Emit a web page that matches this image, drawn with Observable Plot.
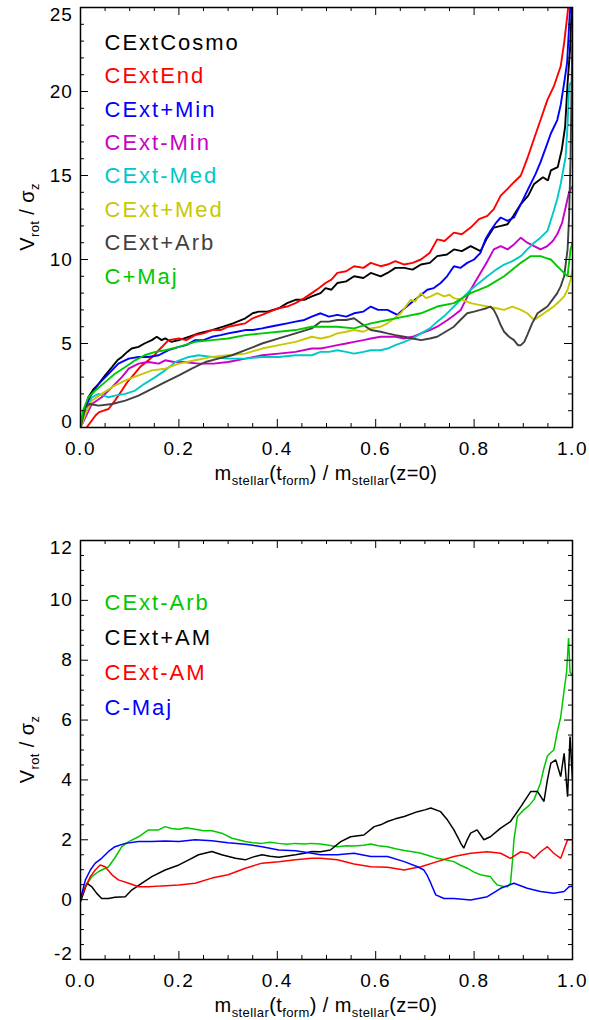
<!DOCTYPE html>
<html><head><meta charset="utf-8">
<script src="https://cdn.jsdelivr.net/npm/d3@7"></script>
<script src="https://cdn.jsdelivr.net/npm/@observablehq/plot@0.6"></script>
<style>
html,body{margin:0;padding:0;background:#fff;}
#chart svg{display:block;}
g[aria-label="x-axis tick label"]{letter-spacing:1.5px;}
g[aria-label="y-axis tick label"]{letter-spacing:0.8px;}
g[aria-label="text"]{letter-spacing:2px;}
</style></head><body><div id="chart"></div>
<script>
// ---------- Data (x = m_stellar(t_form)/m_stellar(z=0), y = Vrot/sigma_z) ----------
// Top panel
const cextCosmo = [[0,0],[0.008,1.0],[0.016,1.8],[0.027,2.3],[0.037,2.6],[0.05,3.1],[0.064,3.6],[0.075,4.0],[0.084,4.2],[0.095,4.5],[0.104,4.7],[0.118,4.8],[0.13,5.0],[0.145,5.2],[0.155,5.4],[0.165,5.2],[0.172,5.3],[0.185,5.1],[0.2,5.2],[0.22,5.4],[0.24,5.6],[0.267,5.8],[0.29,6.0],[0.31,6.2],[0.335,6.5],[0.35,6.8],[0.362,6.9],[0.38,6.9],[0.403,7.1],[0.42,7.4],[0.437,7.6],[0.455,7.6],[0.47,7.8],[0.488,8.0],[0.498,8.3],[0.51,8.2],[0.522,8.6],[0.54,8.7],[0.556,9.0],[0.575,8.9],[0.59,9.2],[0.61,9.0],[0.624,9.2],[0.64,9.5],[0.658,9.5],[0.675,9.4],[0.692,9.7],[0.71,9.8],[0.725,10.2],[0.745,10.3],[0.759,10.6],[0.775,10.5],[0.793,10.8],[0.813,10.5],[0.825,11.2],[0.84,11.9],[0.855,12.0],[0.868,12.1],[0.88,12.6],[0.895,13.3],[0.91,13.8],[0.922,14.5],[0.94,14.9],[0.95,14.7],[0.956,15.3],[0.97,15.5],[0.978,16.5],[0.985,17.9],[0.99,20.5],[0.995,22.5],[1.0,26]];
const cextEnd = [[0.01,-0.1],[0.02,0.3],[0.03,0.7],[0.037,0.9],[0.047,1.0],[0.057,1.1],[0.07,1.6],[0.084,2.2],[0.095,2.7],[0.104,3.0],[0.121,3.6],[0.138,4.0],[0.15,4.3],[0.159,4.6],[0.179,5.2],[0.2,5.3],[0.215,5.2],[0.233,5.5],[0.25,5.6],[0.267,5.8],[0.285,5.8],[0.3,6.0],[0.318,6.1],[0.335,6.2],[0.35,6.5],[0.369,6.7],[0.385,6.9],[0.403,7.1],[0.42,7.2],[0.437,7.4],[0.455,7.7],[0.47,8.0],[0.485,8.3],[0.498,8.6],[0.51,8.8],[0.522,9.2],[0.54,9.3],[0.556,9.6],[0.575,9.5],[0.59,9.8],[0.61,9.6],[0.624,9.7],[0.64,9.9],[0.658,9.7],[0.675,9.8],[0.692,10.0],[0.71,10.4],[0.725,11.2],[0.74,11.1],[0.759,11.6],[0.775,11.5],[0.793,11.9],[0.81,12.4],[0.827,12.6],[0.84,13.0],[0.854,13.8],[0.868,14.2],[0.881,14.6],[0.895,15.0],[0.908,16.0],[0.922,17.2],[0.935,18.3],[0.949,19.5],[0.962,20.3],[0.976,21.5],[0.983,22.9],[0.989,24.4],[0.995,26]];
const cextPlusMin = [[0,0],[0.01,1.2],[0.023,2.0],[0.037,2.6],[0.057,3.2],[0.077,3.8],[0.098,4.1],[0.118,4.2],[0.138,4.2],[0.159,4.3],[0.179,4.6],[0.2,4.8],[0.215,4.9],[0.233,5.2],[0.25,5.2],[0.267,5.4],[0.285,5.5],[0.3,5.6],[0.318,5.7],[0.335,5.8],[0.35,5.8],[0.369,5.9],[0.385,6.0],[0.403,6.1],[0.42,6.2],[0.437,6.3],[0.455,6.4],[0.47,6.6],[0.488,6.8],[0.505,6.6],[0.522,6.7],[0.54,6.6],[0.556,6.8],[0.575,6.9],[0.59,7.2],[0.605,7.0],[0.624,7.0],[0.644,6.7],[0.655,7.0],[0.671,7.4],[0.688,7.8],[0.705,8.2],[0.718,8.3],[0.732,8.6],[0.745,9.0],[0.759,9.6],[0.772,9.5],[0.786,9.8],[0.8,10.0],[0.813,10.4],[0.823,11.2],[0.833,11.7],[0.845,12.2],[0.854,12.5],[0.868,12.3],[0.881,12.5],[0.895,13.3],[0.905,13.9],[0.915,14.5],[0.925,15.1],[0.935,15.8],[0.945,16.6],[0.956,17.5],[0.969,18.3],[0.976,19.2],[0.983,20.5],[0.989,21.7],[0.994,24.4],[0.998,26]];
const cextMinusMin = [[0,0],[0.01,0.6],[0.023,1.4],[0.043,1.8],[0.064,2.4],[0.084,3.0],[0.098,3.5],[0.118,3.8],[0.138,3.9],[0.159,3.8],[0.172,4.0],[0.19,3.9],[0.21,3.9],[0.24,3.8],[0.27,3.8],[0.3,3.9],[0.335,4.1],[0.369,4.3],[0.403,4.4],[0.437,4.5],[0.47,4.7],[0.488,4.7],[0.505,4.8],[0.522,4.9],[0.54,5.0],[0.556,5.1],[0.575,5.2],[0.59,5.3],[0.61,5.4],[0.624,5.4],[0.64,5.4],[0.658,5.3],[0.675,5.4],[0.692,5.6],[0.71,5.8],[0.725,6.0],[0.746,6.4],[0.76,6.7],[0.773,7.0],[0.783,7.6],[0.793,8.2],[0.803,8.7],[0.813,9.2],[0.827,9.9],[0.84,10.6],[0.854,10.8],[0.868,10.6],[0.881,10.9],[0.895,11.3],[0.908,11.0],[0.922,10.8],[0.935,10.6],[0.949,10.8],[0.96,11.1],[0.969,11.5],[0.979,12.2],[0.986,13.1],[0.993,14.0],[0.998,14.3]];
const cextMinusMed = [[0,0],[0.01,0.8],[0.023,1.8],[0.037,2.0],[0.047,1.9],[0.057,1.8],[0.07,1.9],[0.091,2.0],[0.111,2.2],[0.13,2.6],[0.152,3.0],[0.172,3.4],[0.193,3.9],[0.22,4.2],[0.24,4.3],[0.267,4.2],[0.3,4.1],[0.335,4.1],[0.369,4.2],[0.403,4.2],[0.437,4.3],[0.47,4.3],[0.488,4.5],[0.505,4.5],[0.522,4.6],[0.54,4.5],[0.556,4.4],[0.575,4.5],[0.59,4.6],[0.61,4.6],[0.624,4.7],[0.64,4.9],[0.658,5.1],[0.675,5.3],[0.692,5.6],[0.71,5.9],[0.725,6.3],[0.742,6.7],[0.759,7.2],[0.776,7.7],[0.793,8.2],[0.81,8.6],[0.827,9.0],[0.845,9.4],[0.861,9.7],[0.878,9.9],[0.895,10.2],[0.908,10.6],[0.922,11.0],[0.935,11.3],[0.949,11.7],[0.962,12.9],[0.969,13.6],[0.976,14.5],[0.981,15.3],[0.986,16.1],[0.99,18.0],[0.993,20.3],[0.996,20.5]];
const cextPlusMed = [[0,0],[0.01,0.8],[0.023,1.6],[0.043,2.0],[0.064,2.4],[0.091,2.8],[0.118,3.1],[0.145,3.4],[0.172,3.5],[0.2,3.8],[0.233,4.0],[0.267,4.2],[0.3,4.3],[0.335,4.4],[0.369,4.7],[0.403,4.9],[0.437,5.1],[0.47,5.4],[0.488,5.3],[0.505,5.4],[0.522,5.6],[0.54,5.7],[0.556,5.8],[0.575,5.7],[0.59,5.9],[0.61,6.0],[0.624,6.2],[0.638,6.5],[0.651,6.8],[0.661,7.2],[0.671,7.6],[0.68,7.5],[0.692,8.0],[0.702,7.7],[0.712,7.8],[0.725,8.0],[0.739,7.8],[0.75,7.9],[0.759,7.7],[0.776,7.6],[0.793,7.4],[0.81,7.3],[0.827,7.2],[0.845,7.1],[0.861,7.0],[0.878,7.2],[0.895,7.0],[0.908,6.8],[0.922,6.4],[0.932,6.6],[0.942,6.8],[0.952,7.0],[0.962,7.2],[0.973,7.5],[0.983,7.8],[0.99,8.2],[0.996,8.8],[1.0,9.4]];
const cextPlusArb = [[0,0],[0.01,1.2],[0.018,1.4],[0.037,1.3],[0.064,1.4],[0.091,1.6],[0.118,1.9],[0.145,2.3],[0.172,2.7],[0.2,3.1],[0.226,3.5],[0.254,3.9],[0.28,4.1],[0.308,4.3],[0.335,4.6],[0.369,5.0],[0.403,5.3],[0.437,5.6],[0.47,5.9],[0.488,6.3],[0.505,6.3],[0.522,6.4],[0.54,6.4],[0.556,6.5],[0.57,6.2],[0.59,5.8],[0.61,5.7],[0.624,5.6],[0.64,5.5],[0.658,5.4],[0.675,5.3],[0.692,5.2],[0.71,5.3],[0.725,5.4],[0.742,5.7],[0.759,6.0],[0.772,6.4],[0.786,6.8],[0.8,6.9],[0.813,7.0],[0.825,7.1],[0.833,7.2],[0.84,7.0],[0.847,6.6],[0.854,6.1],[0.861,5.7],[0.871,5.4],[0.881,5.2],[0.889,4.9],[0.895,4.9],[0.902,5.1],[0.908,5.5],[0.918,6.2],[0.929,6.8],[0.939,7.0],[0.949,7.2],[0.959,7.6],[0.969,8.0],[0.976,8.4],[0.983,9.0],[0.99,10.6],[0.993,12.5],[0.996,16],[0.998,20],[1.0,24]];
const cPlusMaj = [[0,0],[0.005,1.0],[0.016,1.8],[0.03,2.2],[0.05,2.7],[0.07,3.2],[0.091,3.6],[0.111,4.0],[0.13,4.3],[0.152,4.5],[0.172,4.6],[0.2,4.8],[0.233,5.1],[0.267,5.2],[0.3,5.3],[0.335,5.5],[0.369,5.6],[0.403,5.7],[0.437,5.8],[0.47,6.0],[0.488,6.0],[0.522,6.0],[0.556,5.9],[0.59,6.2],[0.624,6.4],[0.658,6.6],[0.692,6.8],[0.725,7.2],[0.759,7.4],[0.793,8.0],[0.827,8.4],[0.861,9.0],[0.878,9.4],[0.895,9.8],[0.905,10.0],[0.915,10.2],[0.935,10.2],[0.945,10.1],[0.956,10.0],[0.966,9.7],[0.976,9.4],[0.99,9.0],[0.996,10.6],[1.0,11]];

// Bottom panel
const cextMinusArb = [[0,0.04],[0.01,0.43],[0.023,0.77],[0.037,0.94],[0.057,1.1],[0.07,1.4],[0.084,1.77],[0.098,1.94],[0.118,2.1],[0.138,2.33],[0.159,2.33],[0.172,2.44],[0.185,2.38],[0.2,2.35],[0.215,2.4],[0.233,2.35],[0.25,2.3],[0.267,2.3],[0.287,2.22],[0.308,2.05],[0.335,1.94],[0.35,1.9],[0.369,1.88],[0.385,1.92],[0.403,1.88],[0.42,1.85],[0.437,1.88],[0.455,1.86],[0.47,1.88],[0.488,1.86],[0.505,1.82],[0.522,1.77],[0.54,1.8],[0.556,1.79],[0.575,1.82],[0.59,1.86],[0.605,1.8],[0.624,1.77],[0.64,1.7],[0.658,1.64],[0.675,1.6],[0.692,1.55],[0.71,1.46],[0.725,1.38],[0.742,1.33],[0.759,1.27],[0.772,1.15],[0.786,1.05],[0.8,0.92],[0.813,0.83],[0.823,0.8],[0.833,0.77],[0.84,0.62],[0.847,0.49],[0.858,0.45],[0.868,0.43],[0.874,0.55],[0.878,1.3],[0.881,2.0],[0.888,2.78],[0.901,3.0],[0.912,3.15],[0.922,3.35],[0.935,3.9],[0.942,4.4],[0.949,4.8],[0.955,4.9],[0.962,5.0],[0.969,5.6],[0.976,6.1],[0.983,7.0],[0.988,7.6],[0.992,8.74],[0.995,7.6],[1.0,7.5]];
const cextPlusAM = [[0,-0.07],[0.006,0.21],[0.013,0.55],[0.023,0.43],[0.033,0.21],[0.043,0.04],[0.057,0.04],[0.07,0.08],[0.091,0.1],[0.104,0.32],[0.125,0.55],[0.145,0.77],[0.172,0.99],[0.2,1.16],[0.22,1.33],[0.24,1.5],[0.267,1.61],[0.287,1.5],[0.315,1.38],[0.335,1.33],[0.35,1.42],[0.369,1.5],[0.385,1.45],[0.403,1.42],[0.42,1.46],[0.437,1.5],[0.455,1.55],[0.47,1.61],[0.488,1.6],[0.508,1.66],[0.529,1.94],[0.549,2.1],[0.576,2.16],[0.597,2.44],[0.61,2.5],[0.624,2.61],[0.64,2.7],[0.658,2.78],[0.685,2.94],[0.7,3.0],[0.712,3.06],[0.732,2.94],[0.746,2.66],[0.759,2.33],[0.768,2.05],[0.773,1.88],[0.779,1.72],[0.786,2.0],[0.793,2.22],[0.806,2.33],[0.82,2.0],[0.833,2.1],[0.854,2.39],[0.874,2.61],[0.895,3.11],[0.915,3.61],[0.929,3.61],[0.942,3.28],[0.949,4.0],[0.956,4.56],[0.966,4.67],[0.976,4.11],[0.983,4.89],[0.99,3.44],[0.995,5.45],[1.0,4.0]];
const cextMinusAM = [[0,0.04],[0.01,0.43],[0.02,0.77],[0.03,0.99],[0.04,1.16],[0.05,1.1],[0.064,0.83],[0.077,0.66],[0.098,0.55],[0.118,0.43],[0.138,0.43],[0.165,0.46],[0.2,0.49],[0.233,0.55],[0.267,0.72],[0.3,0.83],[0.335,1.05],[0.369,1.22],[0.403,1.27],[0.437,1.33],[0.47,1.38],[0.488,1.38],[0.522,1.33],[0.556,1.19],[0.59,1.1],[0.624,1.08],[0.658,0.99],[0.675,1.05],[0.692,1.1],[0.725,1.27],[0.759,1.44],[0.793,1.55],[0.827,1.6],[0.854,1.55],[0.874,1.38],[0.895,1.6],[0.91,1.55],[0.922,1.38],[0.935,1.6],[0.949,1.77],[0.962,1.55],[0.976,1.38],[0.99,2.0],[1.0,2.0]];
const cMinusMaj = [[0,0.04],[0.01,0.66],[0.02,0.99],[0.03,1.22],[0.043,1.38],[0.057,1.61],[0.07,1.77],[0.091,1.88],[0.118,1.94],[0.145,1.94],[0.172,1.96],[0.2,1.94],[0.233,2.0],[0.267,1.97],[0.3,1.9],[0.335,1.85],[0.369,1.77],[0.403,1.66],[0.437,1.63],[0.47,1.55],[0.488,1.5],[0.522,1.5],[0.556,1.55],[0.59,1.44],[0.624,1.44],[0.658,1.27],[0.685,1.1],[0.698,0.99],[0.705,0.8],[0.712,0.55],[0.722,0.16],[0.739,0.04],[0.759,0.04],[0.793,-0.01],[0.827,0.1],[0.854,0.38],[0.881,0.55],[0.908,0.38],[0.935,0.27],[0.962,0.21],[0.983,0.27],[0.993,0.43],[1.0,0.45]];

const topNames = ["CExtCosmo","CExtEnd","CExt+Min","CExt-Min","CExt-Med","CExt+Med","CExt+Arb","C+Maj"];
const topColors = ["#000000","#ff0000","#0000ff","#c800c8","#00c8c8","#c8c800","#404040","#00c800"];
const topSeries = [cextCosmo,cextEnd,cextPlusMin,cextMinusMin,cextMinusMed,cextPlusMed,cextPlusArb,cPlusMaj];

const botNames = ["CExt-Arb","CExt+AM","CExt-AM","C-Maj"];
const botColors = ["#00c800","#000000","#ff0000","#0000ff"];
const botSeries = [cextMinusArb,cextPlusAM,cextMinusAM,cMinusMaj];

const xMajor = [0,0.2,0.4,0.6,0.8,1.0];
const xMinor = [0.05,0.1,0.15,0.25,0.3,0.35,0.45,0.5,0.55,0.65,0.7,0.75,0.85,0.9,0.95];
const topYMajor = [0,5,10,15,20,25];
const topYMinor = d3.range(0,25.01,1).filter(v => v % 5 !== 0);
const botYMajor = [-2,0,2,4,6,8,10,12];
const botYMinor = d3.range(-2,12.01,0.5).filter(v => v % 2 !== 0);

const xTitleParts = [["m",0],["stellar",1],["(t",0],["form",1],[") / m",0],["stellar",1],["(z=0)",0]];
const yTitleParts = [["V",0],["rot",1],[" / σ",0],["z",1]];

const W = 589, ML = 80, MR = 17;
const FONT = "'Liberation Sans', Arial, Helvetica, sans-serif";

function appendRich(t, parts, size, subSize, shift) {
  let cur = 0;
  parts.forEach(([str, sub]) => {
    const target = sub ? shift : 0;
    t.append("tspan").attr("font-size", sub ? subSize : size).attr("dy", target - cur).text(str);
    cur = target;
  });
}

function panel({series, names, colors, yDomain, yMajor, yMinor, height, marginTop, marginBottom, legendDy0, legendStep, strokeWidth}) {
  const fh = height - marginTop - marginBottom;
  const fw = W - ML - MR;
  const marks = [];
  series.forEach((s, i) => {
    marks.push(Plot.line(s, {x: d => d[0], y: d => d[1], stroke: colors[i], strokeWidth, strokeLinejoin: "miter", clip: true}));
  });
  // inward ticks on all four sides
  marks.push(Plot.tickX(xMajor, {x: d => d, insetTop: fh - 8, stroke: "#000"}));
  marks.push(Plot.tickX(xMajor, {x: d => d, insetBottom: fh - 8, stroke: "#000"}));
  marks.push(Plot.tickX(xMinor, {x: d => d, insetTop: fh - 4, stroke: "#000"}));
  marks.push(Plot.tickX(xMinor, {x: d => d, insetBottom: fh - 4, stroke: "#000"}));
  marks.push(Plot.tickY(yMajor, {y: d => d, insetRight: fw - 8, stroke: "#000"}));
  marks.push(Plot.tickY(yMajor, {y: d => d, insetLeft: fw - 8, stroke: "#000"}));
  marks.push(Plot.tickY(yMinor, {y: d => d, insetRight: fw - 4, stroke: "#000"}));
  marks.push(Plot.tickY(yMinor, {y: d => d, insetLeft: fw - 4, stroke: "#000"}));
  marks.push(Plot.frame({stroke: "#000", strokeWidth: 1.5}));
  marks.push(Plot.axisX({ticks: xMajor, tickSize: 0, tickPadding: 14, tickFormat: d3.format(".1f"), fontSize: 19, label: null, anchor: "bottom"}));
  // y tick labels: inner ones centred on the tick, the end ones nudged inside like the original
  const yInner = yMajor.slice(1, -1);
  const yAxisOpts = {tickSize: 0, tickPadding: 8, tickFormat: d => String(d), fontSize: 19, label: null, anchor: "left"};
  marks.push(Plot.axisY({...yAxisOpts, ticks: yInner}));
  marks.push(Plot.axisY({...yAxisOpts, ticks: [yMajor[yMajor.length - 1]], dy: 7}));
  marks.push(Plot.axisY({...yAxisOpts, ticks: [yMajor[0]], dy: -6}));
  names.forEach((n, i) => {
    marks.push(Plot.text([n], {text: d => d, frameAnchor: "top-left", dx: 24, dy: legendDy0 + i * legendStep, textAnchor: "start", fill: colors[i], fontSize: 22}));
  });
  const svg = Plot.plot({
    width: W, height, marginLeft: ML, marginRight: MR, marginTop, marginBottom,
    x: {domain: [0, 1]},
    y: {domain: yDomain},
    style: {fontFamily: FONT, background: "#fff", color: "#000"},
    marks
  });
  const s = d3.select(svg);
  const frameBottom = height - marginBottom;
  const xt = s.append("text").attr("x", ML + fw / 2).attr("y", frameBottom + 52.7)
    .attr("text-anchor", "middle").attr("fill", "#000").attr("font-size", 20).style("letter-spacing", "0.4px");
  appendRich(xt, xTitleParts, 20, 13, 5);
  const cy = marginTop + fh / 2;
  const yt = s.append("text").attr("transform", `translate(34,${cy}) rotate(-90)`)
    .attr("text-anchor", "middle").attr("fill", "#000").attr("font-size", 20).style("letter-spacing", "0.4px");
  appendRich(yt, yTitleParts, 20, 13, 5);
  return svg;
}

const chart = document.getElementById("chart");
chart.appendChild(panel({
  series: topSeries, names: topNames, colors: topColors,
  yDomain: [0, 25], yMajor: topYMajor, yMinor: topYMinor,
  height: 500, marginTop: 7, marginBottom: 73,
  legendDy0: 26.7, legendStep: 33.4, strokeWidth: 1.9
}));
chart.appendChild(panel({
  series: botSeries, names: botNames, colors: botColors,
  yDomain: [-2, 12], yMajor: botYMajor, yMinor: botYMinor,
  height: 520, marginTop: 40, marginBottom: 61,
  legendDy0: 53.4, legendStep: 35, strokeWidth: 1.5
}));
</script></body></html>
